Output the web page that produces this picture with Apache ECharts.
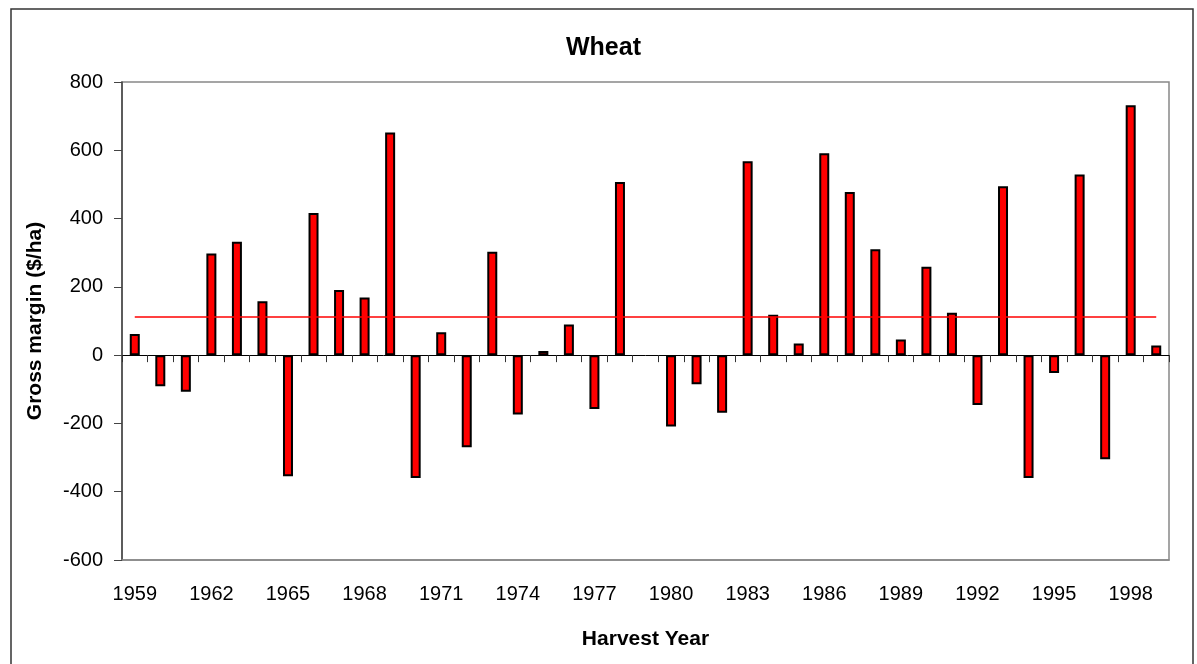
<!DOCTYPE html>
<html>
<head>
<meta charset="utf-8">
<script src="https://cdn.jsdelivr.net/npm/echarts@6/dist/echarts.min.js"></script>
<style>
html,body{margin:0;padding:0;background:#fff;}
#chart{width:1197px;height:664px;}
</style>
</head>
<body>
<div id="chart"></div>
<script>
const years = ['1959','1960','1961','1962','1963','1964','1965','1966','1967','1968',
  '1969','1970','1971','1972','1973','1974','1975','1976','1977','1978',
  '1979','1980','1981','1982','1983','1984','1985','1986','1987','1988',
  '1989','1990','1991','1992','1993','1994','1995','1996','1997','1998','1999'];
const grossMargin = [62, -91, -107, 298, 332, 158, -355, 416, 191, 169,
  652, -360, 67, -270, 303, -174, 12, 90, -158, 507,
  null, -209, -85, -169, 568, 118, 34, 591, 478, 310,
  46, 259, 124, -146, 495, -360, -52, 529, -305, 732, 28];
const averageMargin = 112;
const yTicks = { min: -600, max: 800, interval: 200 };

const FONT = 'Liberation Sans, Arial, sans-serif';
const chart = echarts.init(document.getElementById('chart'), null, { renderer: 'canvas' });
chart.setOption({
  animation: false,
  backgroundColor: '#fff',
  title: {
    text: 'Wheat',
    left: 561,
    top: 31,
    textStyle: { fontFamily: FONT, fontSize: 25, fontWeight: 'bold', color: '#000' }
  },
  graphic: [{
    type: 'rect',
    shape: { x: 11, y: 9, width: 1182, height: 670 },
    style: { fill: 'none', stroke: '#333', lineWidth: 1.5 },
    silent: true
  }],
  grid: {
    left: 122, right: 28, top: 82, bottom: 104,
    show: true, borderColor: '#888', borderWidth: 1.5, backgroundColor: 'transparent'
  },
  xAxis: [{
    type: 'category',
    data: years,
    position: 'bottom',
    axisLine: { onZero: false, lineStyle: { color: '#888', width: 1.5 } },
    axisTick: { show: false },
    axisLabel: { interval: 2, margin: 24, fontFamily: FONT, fontSize: 20, color: '#000' },
    name: 'Harvest Year',
    nameLocation: 'middle',
    nameGap: 69,
    nameTextStyle: { fontFamily: FONT, fontSize: 21, fontWeight: 'bold', color: '#000' },
    splitLine: { show: false }
  }, {
    type: 'category',
    data: years,
    position: 'bottom',
    axisLine: { onZero: true, lineStyle: { color: '#000', width: 1 } },
    axisTick: { show: true, interval: 0, inside: false, length: 7, lineStyle: { color: '#333', width: 1 } },
    axisLabel: { show: false },
    splitLine: { show: false }
  }],
  yAxis: {
    type: 'value',
    min: yTicks.min, max: yTicks.max, interval: yTicks.interval,
    axisLine: { show: true, lineStyle: { color: '#444', width: 1.5 } },
    axisTick: { show: true, inside: false, length: 8, lineStyle: { color: '#444', width: 1 } },
    axisLabel: { margin: 19, fontFamily: FONT, fontSize: 20, color: '#000' },
    splitLine: { show: false },
    name: 'Gross margin ($/ha)',
    nameLocation: 'middle',
    nameGap: 76,
    nameTextStyle: { fontFamily: FONT, fontSize: 21, fontWeight: 'bold', color: '#000' }
  },
  series: [{
    type: 'bar',
    xAxisIndex: 0,
    data: grossMargin,
    barWidth: 10,
    itemStyle: { color: '#ff0000', borderColor: '#000', borderWidth: 2 },
    markLine: {
      silent: true,
      symbol: ['none', 'none'],
      label: { show: false },
      lineStyle: { color: '#ff0000', width: 1.5, type: 'solid' },
      data: [[
        { coord: [years[0], averageMargin] },
        { coord: [years[years.length - 1], averageMargin] }
      ]]
    }
  }]
});
</script>
</body>
</html>
